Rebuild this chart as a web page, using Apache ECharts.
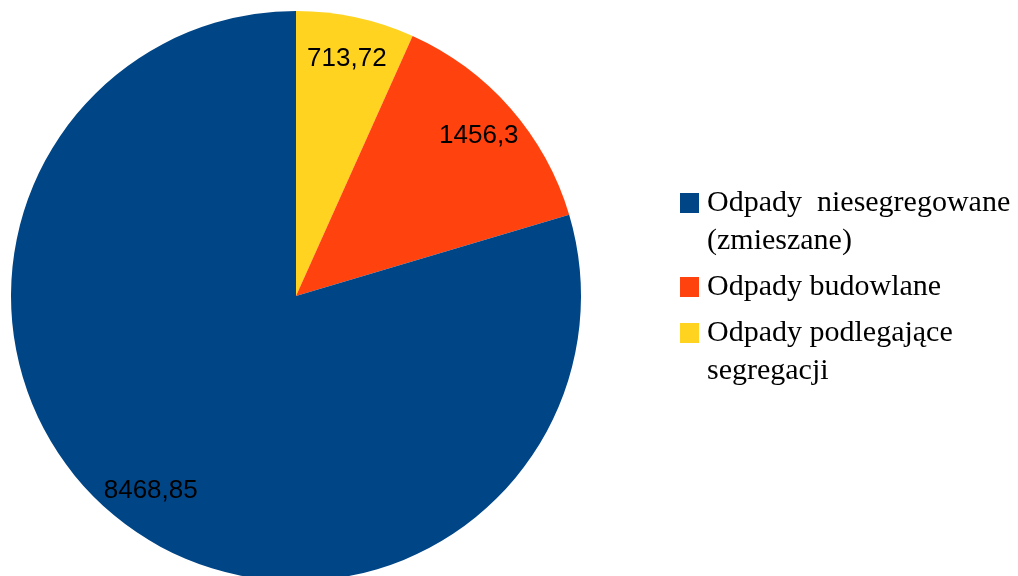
<!DOCTYPE html>
<html>
<head>
<meta charset="utf-8">
<script src="https://cdn.jsdelivr.net/npm/echarts@6/dist/echarts.min.js"></script>
<style>
  html, body { margin: 0; padding: 0; background: #fff; }
  #chart { width: 1018px; height: 576px; }
</style>
</head>
<body>
<div id="chart"></div>
<script>
// slices in drawing order (clockwise from 12 o'clock)
var names = ['Odpady podlegające segregacji', 'Odpady budowlane', 'Odpady niesegregowane (zmieszane)'];
var values = [713.72, 1456.3, 8468.85];
var labels = ['713,72', '1456,3', '8468,85'];
var colors = ['#ffd320', '#ff420e', '#004586'];

// legend order and wrapped texts
var legendNames = ['Odpady niesegregowane (zmieszane)', 'Odpady budowlane', 'Odpady podlegające segregacji'];
var legendTexts = ['Odpady  niesegregowane\n(zmieszane)', 'Odpady budowlane', 'Odpady podlegające\nsegregacji'];
var legendTops = [146, 268, 276];

var pieData = [];
for (let i = 0; i < names.length; i++) {
    pieData.push({ name: names[i], value: values[i], itemStyle: { color: colors[i] } });
}

var legends = [];
for (let i = 0; i < legendNames.length; i++) {
    // an empty first line keeps the square level with the first text line
    var txt = legendTexts[i].indexOf('\n') >= 0 ? '\n' + legendTexts[i] : legendTexts[i];
    legends.push({
        data: [legendNames[i]],
        orient: 'vertical',
        left: 680,
        top: legendTops[i],
        padding: 0,
        icon: 'rect',
        itemWidth: 19,
        itemHeight: 20,
        selectedMode: false,
        formatter: (function (t) { return function () { return t; }; })(txt),
        textStyle: {
            fontFamily: 'Liberation Serif',
            fontSize: 30,
            lineHeight: 38,
            color: '#000',
            padding: [0, 0, 0, 3]
        }
    });
}

var myChart = echarts.init(document.getElementById('chart'));

option = {
    backgroundColor: '#fff',
    animation: false,
    legend: legends,
    series: [
        {
            type: 'pie',
            center: [296, 296],
            radius: [0, 285],
            startAngle: 90,
            clockwise: true,
            data: pieData,
            label: { show: false },
            labelLine: { show: false },
            itemStyle: { borderWidth: 0 },
            emphasis: { disabled: true }
        },
        {
            // transparent ring only to place the value labels
            type: 'pie',
            center: [296, 296],
            radius: [195, 285],
            startAngle: 90,
            clockwise: true,
            silent: true,
            legendHoverLink: false,
            data: pieData.map(function (d) {
                return { name: d.name, value: d.value, itemStyle: { color: 'rgba(0,0,0,0)' } };
            }),
            label: {
                show: true,
                position: 'inside',
                formatter: function (p) { return labels[p.dataIndex]; },
                fontFamily: 'Liberation Sans',
                fontSize: 26,
                color: '#000'
            },
            labelLine: { show: false },
            emphasis: { disabled: true }
        }
    ]
};

myChart.setOption(option);
</script>
</body>
</html>
